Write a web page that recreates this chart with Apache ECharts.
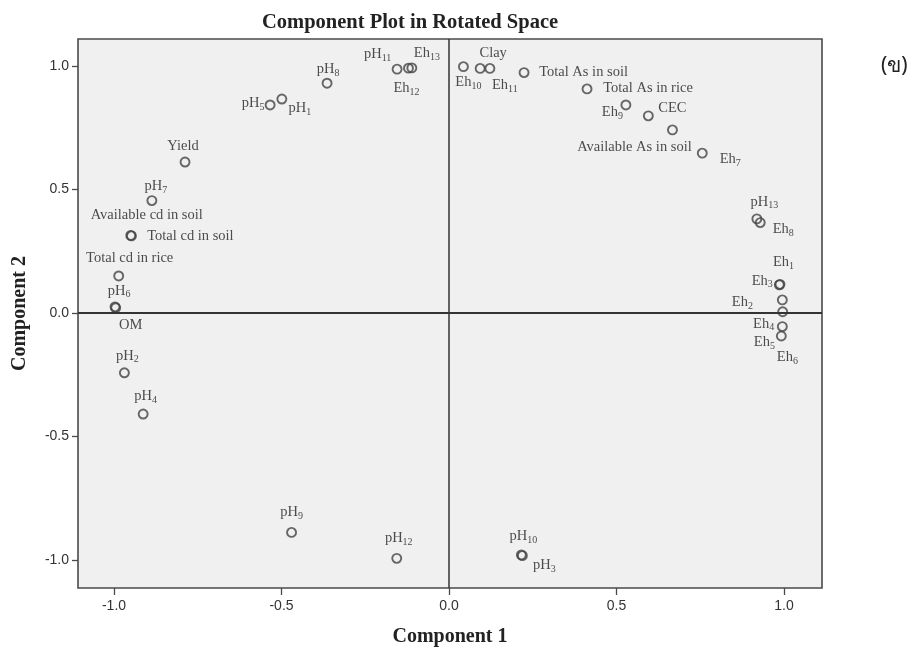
<!DOCTYPE html>
<html>
<head>
<meta charset="utf-8">
<title>Component Plot in Rotated Space</title>
<script src="https://cdn.jsdelivr.net/npm/echarts@6/dist/echarts.min.js"></script>
<style>
  html, body { margin: 0; padding: 0; background: #ffffff; }
  #chart { width: 918px; height: 648px; }
</style>
</head>
<body>
<div id="chart"></div>
<script>
// Rotated component loadings (component 1, component 2) for each variable
const variables = [
  'pH1', 'pH2', 'pH3', 'pH4', 'pH5', 'pH6', 'pH7', 'pH8', 'pH9', 'pH10', 'pH11', 'pH12', 'pH13',
  'Eh1', 'Eh2', 'Eh3', 'Eh4', 'Eh5', 'Eh6', 'Eh7', 'Eh8', 'Eh9', 'Eh10', 'Eh11', 'Eh12', 'Eh13',
  'Clay', 'CEC', 'OM', 'Yield',
  'Total cd in rice', 'Total cd in soil', 'Available cd in soil',
  'Total As in rice', 'Total As in soil', 'Available As in soil'
];
const component1 = [
  -0.499, -0.969, 0.219, -0.913, -0.534, -0.997, -0.887, -0.364, -0.470, 0.216, -0.155, -0.156, 0.919,
  0.988, 0.995, 0.986, 0.996, 0.995, 0.992, 0.756, 0.929, 0.528, 0.043, 0.122, -0.121, -0.111,
  0.093, 0.595, -0.995, -0.788,
  -0.986, -0.948, -0.950,
  0.412, 0.224, 0.667
];
const component2 = [
  0.866, -0.242, -0.982, -0.409, 0.842, 0.025, 0.455, 0.930, -0.888, -0.979, 0.987, -0.993, 0.381,
  0.116, 0.053, 0.114, 0.005, -0.055, -0.093, 0.647, 0.366, 0.842, 0.997, 0.990, 0.991, 0.992,
  0.990, 0.798, 0.021, 0.611,
  0.150, 0.312, 0.314,
  0.907, 0.973, 0.741
];
const tickValues = [-1.0, -0.5, 0.0, 0.5, 1.0];

// Where each point's label sits, as a pixel shift of the label centre from the marker
const labelShift = {
  'pH1': [18, 9], 'pH2': [3, -17], 'pH3': [22, 10], 'pH4': [2.5, -18], 'pH5': [-17, -2],
  'pH6': [4, -16], 'pH7': [4, -14], 'pH8': [1, -14], 'pH9': [0, -20], 'pH10': [2, -19],
  'pH11': [-19.5, -15], 'pH12': [2, -20], 'pH13': [7.5, -17],
  'Eh1': [3.5, -22], 'Eh2': [-40, 2], 'Eh3': [-17, -4], 'Eh4': [-19, 12], 'Eh5': [-18, 16],
  'Eh6': [6, 21], 'Eh7': [28, 6], 'Eh8': [23, 7], 'Eh9': [-13.5, 7], 'Eh10': [5, 16],
  'Eh11': [15, 17], 'Eh12': [-2, 20], 'Eh13': [15, -15],
  'Clay': [13, -15], 'CEC': [24, -8], 'OM': [15, 17], 'Yield': [-2, -16],
  'Total cd in rice': [11, -18], 'Total cd in soil': [59, 0], 'Available cd in soil': [16, -20],
  'Total As in rice': [61, -1], 'Total As in soil': [59.5, 0], 'Available As in soil': [-38, 17]
};

const serif = '"Liberation Serif", "DejaVu Serif", serif';
const sans = '"Liberation Sans", Arial, sans-serif';

// Split names such as pH11 / Eh3 into a base and a subscript
function richName(name) {
  const m = /^(pH|Eh)(\d+)$/.exec(name);
  return m ? '{m|' + m[1] + '}{s|' + m[2] + '}' : '{t|' + name + '}';
}

const points = variables.map(function (name, i) {
  const shift = labelShift[name] || [0, -16];
  return {
    name: name,
    value: [component1[i], component2[i]],
    label: { offset: shift }
  };
});

const chart = echarts.init(document.getElementById('chart'), null, { renderer: 'canvas' });

chart.setOption({
  backgroundColor: '#ffffff',
  animation: false,
  grid: {
    left: 78, top: 39, width: 744, height: 549,
    outerBoundsMode: 'none',
    containLabel: false,
    show: true,
    backgroundColor: '#f0f0f0',
    borderColor: '#4a4a4a',
    borderWidth: 1.6
  },
  xAxis: {
    type: 'value',
    min: -1.1075, max: 1.1134,
    name: 'Component 1',
    nameLocation: 'middle',
    nameGap: 39,
    nameTextStyle: { fontFamily: serif, fontWeight: 'bold', fontSize: 20, color: '#222' },
    axisLine: { show: false, onZero: false },
    splitLine: { show: false },
    axisTick: { show: true, customValues: tickValues, length: 7, lineStyle: { color: '#4a4a4a', width: 1.3 } },
    axisLabel: {
      customValues: tickValues, margin: 11,
      fontFamily: sans, fontSize: 14, color: '#333',
      formatter: function (v) { return v.toFixed(1); }
    }
  },
  yAxis: {
    type: 'value',
    min: -1.113, max: 1.109,
    name: 'Component 2',
    nameLocation: 'middle',
    nameGap: 48,
    nameTextStyle: { fontFamily: serif, fontWeight: 'bold', fontSize: 20, color: '#222' },
    axisLine: { show: false, onZero: false },
    splitLine: { show: false },
    axisTick: { show: true, customValues: tickValues, length: 6, lineStyle: { color: '#4a4a4a', width: 1.3 } },
    axisLabel: {
      customValues: tickValues, margin: 9,
      fontFamily: sans, fontSize: 14, color: '#333',
      formatter: function (v) { return v.toFixed(1); }
    }
  },
  graphic: [
    {
      type: 'text', left: 262, top: 12,
      style: {
        text: 'Component Plot in Rotated Space',
        font: 'bold 20.5px ' + serif, fill: '#222'
      }
    },
    {
      type: 'text', left: 881, top: 56,
      style: { text: '(ข)', font: '21px "Noto Sans", "DejaVu Sans", sans-serif', fill: '#222' }
    }
  ],
  series: [{
    type: 'scatter',
    data: points,
    symbol: 'circle',
    symbolSize: 9,
    itemStyle: { color: 'rgba(0,0,0,0)', borderColor: '#444', borderWidth: 1.9 },
    label: {
      show: true,
      position: 'inside',
      formatter: function (p) { return richName(p.name); },
      rich: {
        t: { fontFamily: serif, fontSize: 14.5, color: '#222', lineHeight: 16 },
        m: { fontFamily: serif, fontSize: 14.5, color: '#222', lineHeight: 18 },
        s: { fontFamily: serif, fontSize: 10, color: '#222', lineHeight: 18, verticalAlign: 'bottom' }
      }
    },
    emphasis: { disabled: true },
    markLine: {
      silent: true,
      symbol: 'none',
      label: { show: false },
      data: [
        { xAxis: 0, lineStyle: { color: '#333', width: 1.5, type: 'solid' } },
        { yAxis: 0, lineStyle: { color: '#333', width: 2.2, type: 'solid' } }
      ]
    },
    z: 3
  }]
});
</script>
</body>
</html>
